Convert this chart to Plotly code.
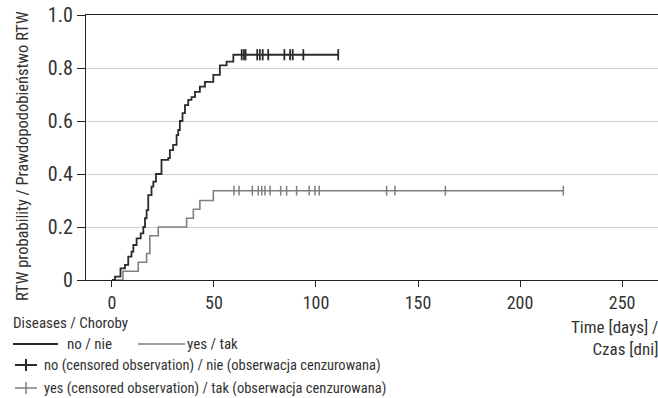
import plotly.graph_objects as go

# ---- data ----
# "no" disease group (black): event times (days) and cumulative RTW probability
t_no = [0, 1.5, 4.2, 6.4, 8.0, 9.6, 10.5, 12.1, 14.1, 15.4, 16.2, 17.0, 17.8, 19.4, 20.3,
        21.6, 24.3, 27.6, 28.4, 30.0, 31.7, 32.5, 33.3, 34.6, 35.8, 37.4, 39.0, 40.7,
        43.1, 45.6, 49.7, 52.9, 56.2, 59.5, 110.9]
p_no = [0, 0.013, 0.044, 0.057, 0.088, 0.107, 0.132, 0.157, 0.176, 0.200, 0.233, 0.264,
        0.320, 0.352, 0.371, 0.400, 0.453, 0.460, 0.490, 0.510, 0.547, 0.566, 0.600,
        0.630, 0.660, 0.680, 0.690, 0.710, 0.730, 0.748, 0.774, 0.810, 0.824, 0.850, 0.850]
cens_no = [63.6, 64.7, 65.5, 71.2, 72.5, 73.9, 76.6, 84.5, 87.3, 88.6, 93.8, 110.9]

# "yes" disease group (gray)
t_yes = [0, 5.4, 12.9, 17.0, 18.6, 22.7, 36.6, 39.9, 43.1, 49.7, 221.2]
p_yes = [0, 0.033, 0.067, 0.100, 0.167, 0.200, 0.233, 0.267, 0.300, 0.337, 0.337]
cens_yes = [59.8, 62.3, 68.8, 71.7, 73.4, 75.0, 77.5, 82.7, 85.6, 90.5, 96.7, 99.5,
            101.6, 134.6, 138.7, 163.4, 221.2]

x_ticks = [0, 50, 100, 150, 200, 250]
x_ticktext = ["0", "50", "100", "150", "200", "250"]
y_ticks = [0, 0.2, 0.4, 0.6, 0.8, 1.0]
y_ticktext = ["0", "0.2", "0.4", "0.6", "0.8", "1.0"]

legend_title = "Diseases / Choroby"
lbl_no = "no / nie"
lbl_yes = "yes / tak"
lbl_cens_no = "no (censored observation) / nie (obserwacja cenzurowana)"
lbl_cens_yes = "yes (censored observation) / tak (obserwacja cenzurowana)"
x_title = "Time [days] /<br>Czas [dni]"
y_title = "RTW probability / Prawdopodobieństwo RTW"

BLACK = "#2b2b2b"
GRAY = "#7f7f7f"
FONT = "Roboto Condensed, DejaVu Sans Condensed, sans-serif"
TXT = "#333333"

def level_at(ts, ps, x):
    v = ps[0]
    for t, p in zip(ts, ps):
        if t <= x:
            v = p
    return v

fig = go.Figure()
fig.add_trace(go.Scatter(x=t_yes, y=p_yes, mode="lines", line=dict(color=GRAY, width=1.6, shape="hv"),
                         showlegend=False, hoverinfo="skip"))
fig.add_trace(go.Scatter(x=cens_yes, y=[level_at(t_yes, p_yes, c) for c in cens_yes], mode="markers",
                         marker=dict(symbol="line-ns", size=7, line=dict(color=GRAY, width=1.5)),
                         showlegend=False, hoverinfo="skip"))
fig.add_trace(go.Scatter(x=t_no, y=p_no, mode="lines", line=dict(color=BLACK, width=1.8, shape="hv"),
                         showlegend=False, hoverinfo="skip"))
fig.add_trace(go.Scatter(x=cens_no, y=[level_at(t_no, p_no, c) for c in cens_no], mode="markers",
                         marker=dict(symbol="line-ns", size=8, line=dict(color=BLACK, width=1.8)),
                         showlegend=False, hoverinfo="skip"))

# plot area in pixels: x 86..658, y 15..280
L, R, T, B = 86, 0, 15, 118
W, H = 658, 398
PW, PH = W - L - R, H - T - B
def px(x):
    return (x - L) / PW
def py(y):
    return (H - B - y) / PH

shapes = [
    dict(type="line", xref="paper", yref="paper", x0=px(13), x1=px(58), y0=py(344), y1=py(344),
         line=dict(color=BLACK, width=1.8)),
    dict(type="line", xref="paper", yref="paper", x0=px(138), x1=px(185), y0=py(344), y1=py(344),
         line=dict(color=GRAY, width=1.6)),
    dict(type="line", xref="paper", yref="paper", x0=px(15), x1=px(37), y0=py(365), y1=py(365),
         line=dict(color=BLACK, width=2)),
    dict(type="line", xref="paper", yref="paper", x0=px(26), x1=px(26), y0=py(359), y1=py(371),
         line=dict(color=BLACK, width=2)),
    dict(type="line", xref="paper", yref="paper", x0=px(15), x1=px(37), y0=py(388), y1=py(388),
         line=dict(color=GRAY, width=1.5)),
    dict(type="line", xref="paper", yref="paper", x0=px(26), x1=px(26), y0=py(382), y1=py(394),
         line=dict(color=GRAY, width=1.5)),
]

def ann(text, x, y, xanchor="left", size=15, **kw):
    return dict(text=text, xref="paper", yref="paper", x=px(x), y=py(y), xanchor=xanchor,
                yanchor="middle", showarrow=False, font=dict(family=FONT, size=size, color=TXT), **kw)

annotations = [
    ann(legend_title, 11, 323),
    ann(lbl_no, 65, 344),
    ann(lbl_yes, 185, 344),
    ann(lbl_cens_no, 42, 365, size=14.5),
    ann(lbl_cens_yes, 42, 388, size=14.5),
    ann(x_title, 660, 338, xanchor="right", size=17, align="right"),
    dict(text=y_title, xref="paper", yref="paper", x=px(22), y=py(156), xanchor="center",
         yanchor="middle", textangle=-90, showarrow=False, font=dict(family=FONT, size=16.5, color=TXT)),
]

fig.update_layout(
    width=W, height=H, margin=dict(l=L, r=R, t=T, b=B),
    paper_bgcolor="white", plot_bgcolor="white",
    font=dict(family=FONT, color=TXT),
    shapes=shapes, annotations=annotations,
    xaxis=dict(range=[-12.7, 267.6], tickvals=x_ticks, ticktext=x_ticktext, showgrid=False,
               zeroline=False, showline=True, mirror=True, linecolor="#222", linewidth=1.2,
               ticks="outside", ticklen=6, tickcolor="#222", tickfont=dict(size=18, family=FONT, color=TXT)),
    yaxis=dict(range=[0, 1.0], tickvals=y_ticks, ticktext=y_ticktext, showgrid=True,
               gridcolor="#cfcfcf", gridwidth=1, zeroline=False, showline=True, linecolor="#222",
               linewidth=1.2, ticks="outside", ticklen=8, tickcolor="#222",
               tickfont=dict(size=20, family=FONT, color=TXT)),
)

fig.write_html("out.html")
